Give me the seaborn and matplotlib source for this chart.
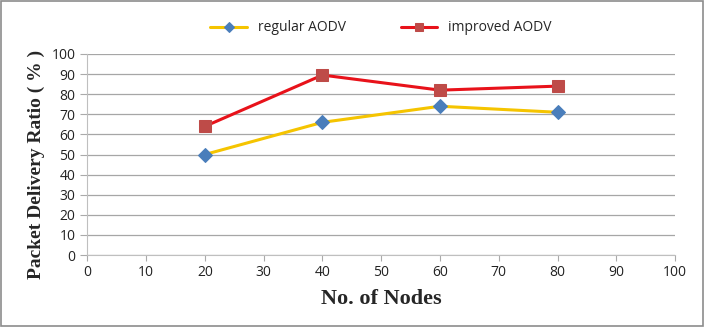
import numpy as np
import pandas as pd
import matplotlib
matplotlib.use("Agg")
import matplotlib.pyplot as plt
import seaborn as sns

# values
nodes = [20, 40, 60, 80]
regular_aodv = [50, 66, 74, 71]
improved_aodv = [64, 89.5, 82, 84]
series_names = ["regular AODV", "improved AODV"]

df = pd.DataFrame({
    "nodes": nodes * 2,
    "pdr": regular_aodv + improved_aodv,
    "protocol": [series_names[0]] * len(nodes) + [series_names[1]] * len(nodes),
})

sns.set_style("white")
plt.rcParams["font.family"] = ["Open Sans", "DejaVu Sans"]

fig = plt.figure(figsize=(7.04, 3.27), dpi=100)
ax = fig.add_axes([0.124, 0.22, 0.835, 0.615])

palette = {"regular AODV": "#f5c400", "improved AODV": "#e8121a"}
markers = {"regular AODV": "D", "improved AODV": "s"}
face = {"regular AODV": "#4a7ebb", "improved AODV": "#be4b48"}

for name in series_names:
    sub = df[df["protocol"] == name]
    sns.lineplot(ax=ax, data=sub, x="nodes", y="pdr", color=palette[name],
                 linewidth=2.2, label=name, marker=markers[name],
                 markersize=8 if name == "improved AODV" else 7,
                 markerfacecolor=face[name], markeredgecolor=face[name])

ax.set_xlim(0, 100)
ax.set_ylim(0, 100)
ax.set_xticks(np.arange(0, 101, 10))
ax.set_yticks(np.arange(0, 101, 10))
ax.tick_params(axis="both", labelsize=10, colors="#222222")
ax.tick_params(axis="x", length=4, color="#aaaaaa", direction="out", bottom=True)
ax.tick_params(axis="y", length=5, color="#aaaaaa", direction="out", left=True)
ax.grid(axis="y", color="#a6a6a6", linewidth=0.9)
ax.set_axisbelow(True)
for side in ["top", "right"]:
    ax.spines[side].set_visible(False)
for side in ["left", "bottom"]:
    ax.spines[side].set_color("#bfbfbf")

ax.set_xlabel("No. of Nodes", family="Liberation Serif", fontweight="bold", fontsize=16, labelpad=6)
ax.set_ylabel("Packet Delivery Ratio ( % )", family="Liberation Serif", fontweight="bold", fontsize=14)
ax.yaxis.set_label_coords(-0.072, 0.45)

ax.legend(loc="lower center", bbox_to_anchor=(0.5, 1.03), ncol=2, frameon=False,
          fontsize=10, handlelength=2.6, columnspacing=4, markerscale=0.8)

fig.patches.append(plt.Rectangle((0.002, 0.003), 0.996, 0.994, transform=fig.transFigure,
                                 fill=False, edgecolor="#8c8c8c", linewidth=1.2))

fig.savefig("out.png", dpi=100)
